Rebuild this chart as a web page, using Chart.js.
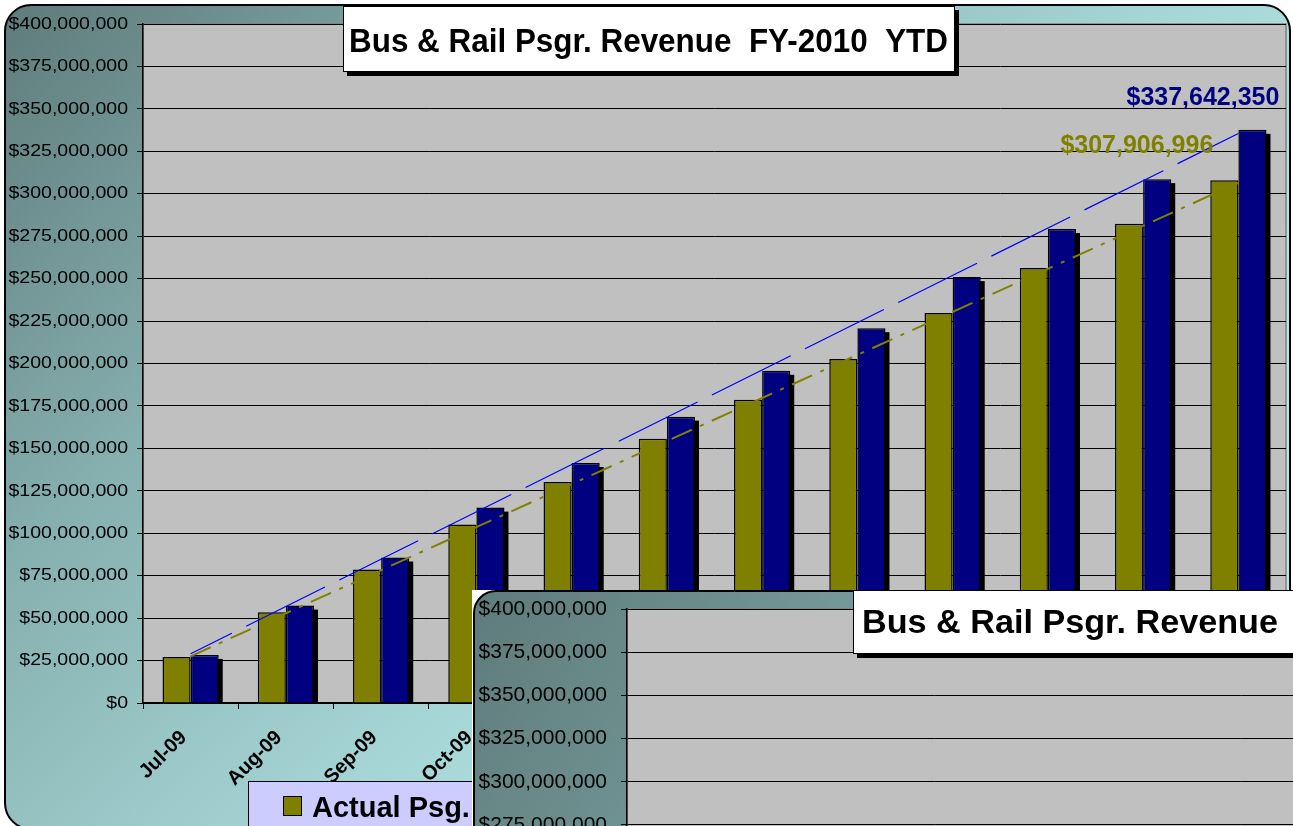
<!DOCTYPE html>
<html><head><meta charset="utf-8">
<script src="https://cdn.jsdelivr.net/npm/chart.js@4.4.0/dist/chart.umd.min.js"></script>
<style>
html,body{margin:0;padding:0;background:#fff;overflow:hidden;width:1293px;height:826px;}
#wrap1{position:absolute;left:0;top:0;width:1293px;height:826px;}
#wrap2{position:absolute;left:472px;top:590px;width:1400px;height:900px;}
canvas{display:block;}
</style></head><body>
<div id="wrap1"><canvas id="c1" width="1293" height="826"></canvas></div>
<div id="wrap2"><canvas id="c2" width="1400" height="900"></canvas></div>
<script>
// ---- data ----
const months = ['Jul-09','Aug-09','Sep-09','Oct-09','Nov-09','Dec-09','Jan-10','Feb-10','Mar-10','Apr-10','May-10','Jun-10'];
const actualRevenue = [27100000, 53400000, 78600000, 105100000, 130200000, 155600000, 178600000, 202700000, 229700000, 256300000, 282300000, 307906996];
const budgetRevenue = [28300000, 57400000, 85700000, 115100000, 141400000, 168700000, 195700000, 220800000, 250900000, 279200000, 308600000, 337642350];
const actualTrendEnds = [27500000, 306500000];
const budgetTrendEnds = [29000000, 335500000];
const seriesNames = ['Actual Psg. Revenue', 'Budget Psg. Revenue'];
const chartTitle = 'Bus & Rail Psgr. Revenue  FY-2010  YTD';
const insetTitle = 'Bus & Rail Psgr. Revenue';
const yMin = 0, yMax = 400000000, yStep = 25000000;

const OLIVE = '#808000', NAVY = '#000080';
const fmt = v => '$' + Math.round(v).toLocaleString('en-US');

function buildDatasets() {
  return [
    { type:'line', label:'Budget trend', data:[{x:months[0], y:budgetTrendEnds[0]}, {x:months[months.length-1], y:budgetTrendEnds[1]}],
      borderColor:'#0000ff', borderWidth:1.2, borderDash:[88,16], borderDashOffset:42, pointRadius:0, fill:false, order:0 },
    { type:'line', label:'Actual trend', data:[{x:months[0], y:actualTrendEnds[0]}, {x:months[months.length-1], y:actualTrendEnds[1]}],
      borderColor:OLIVE, borderWidth:2, borderDash:[22,9,4,9], pointRadius:0, fill:false, order:1 },
    { type:'bar', label:seriesNames[0], data:actualRevenue, backgroundColor:OLIVE, borderColor:'#000', borderWidth:1.5, order:2 },
    { type:'bar', label:seriesNames[1], data:budgetRevenue, backgroundColor:NAVY, borderColor:'#000', borderWidth:1.5, order:3, shadow:true }
  ];
}

function roundRect(ctx, x, y, w, h, r) {
  ctx.beginPath();
  ctx.moveTo(x + r, y);
  ctx.lineTo(x + w - r, y);
  ctx.arcTo(x + w, y, x + w, y + r, r);
  ctx.lineTo(x + w, y + h - r);
  ctx.arcTo(x + w, y + h, x + w - r, y + h, r);
  ctx.lineTo(x + r, y + h);
  ctx.arcTo(x, y + h, x, y + h - r, r);
  ctx.lineTo(x, y + r);
  ctx.arcTo(x, y, x + r, y, r);
  ctx.closePath();
}

function shadowBox(ctx, x, y, w, h) {
  ctx.fillStyle = '#000';
  ctx.fillRect(x + 4, y + 4, w, h);
  ctx.fillStyle = '#fff';
  ctx.fillRect(x, y, w, h);
  ctx.strokeStyle = '#000';
  ctx.lineWidth = 1;
  ctx.strokeRect(x + 0.5, y + 0.5, w - 1, h - 1);
}

function fitText(ctx, text, x, baseline, font, targetW, color) {
  ctx.save();
  ctx.font = font;
  ctx.fillStyle = color;
  ctx.textAlign = 'left';
  ctx.textBaseline = 'alphabetic';
  const m = ctx.measureText(text).width;
  ctx.translate(x, baseline);
  if (targetW) ctx.scale(targetW / m, 1);
  ctx.fillText(text, 0, 0);
  ctx.restore();
}

function makeChart(canvas, cfg) {
  const W = canvas.width, H = canvas.height;
  const decor = {
    id: 'decor',
    beforeDraw(chart) {
      const ctx = chart.ctx, a = chart.chartArea;
      const ys = chart.scales.y, xs = chart.scales.x;
      if (!ys.__patched) {
        const origY = ys.drawLabels;
        ys.drawLabels = function (ca) {
          const c = this.ctx, ax = this.right - 6 - cfg.yPad;
          c.save();
          c.translate(cfg.yLabelDx, 0);
          c.translate(ax, 0); c.scale(cfg.yStretch, 1); c.translate(-ax, 0);
          origY.call(this, ca);
          c.restore();
        };
        ys.__patched = true;
      }
      if (!xs.__patched) {
        const origX = xs.drawLabels;
        xs.drawLabels = function (ca) {
          const c = this.ctx;
          c.save();
          c.translate(cfg.xShift[0], cfg.xShift[1]);
          origX.call(this, ca);
          c.restore();
        };
        xs.__patched = true;
      }
      ctx.save();
      ctx.fillStyle = '#fff';
      ctx.fillRect(0, 0, W, H);
      const g = ctx.createLinearGradient(cfg.frame.x, cfg.frame.y, cfg.frame.x + cfg.gradW, cfg.frame.y + cfg.gradH);
      g.addColorStop(0, '#5f7b7b');
      g.addColorStop(0.35, '#86afaf');
      g.addColorStop(0.7, '#a6d5d5');
      g.addColorStop(1, '#b8e8e8');
      roundRect(ctx, cfg.frame.x, cfg.frame.y, cfg.frame.w, cfg.frame.h, cfg.frame.r);
      ctx.fillStyle = g;
      ctx.fill();
      ctx.lineWidth = 2;
      ctx.strokeStyle = '#000';
      ctx.stroke();
      ctx.fillStyle = '#c0c0c0';
      ctx.fillRect(a.left, a.top, a.right - a.left, a.bottom - a.top);
      ctx.strokeStyle = '#808080';
      ctx.lineWidth = 1.5;
      ctx.strokeRect(a.left, a.top, a.right - a.left, a.bottom - a.top);
      ctx.restore();
    },
    beforeDatasetDraw(chart, args) {
      const ds = chart.data.datasets[args.index];
      if (!ds.shadow) return;
      const ctx = chart.ctx, a = chart.chartArea;
      ctx.save();
      ctx.beginPath();
      ctx.rect(a.left, a.top, a.right - a.left, a.bottom - a.top);
      ctx.clip();
      ctx.fillStyle = '#000';
      args.meta.data.forEach(el => {
        ctx.fillRect(el.x - el.width / 2 + 4, el.y + 4, el.width, el.base - el.y);
      });
      ctx.restore();
    },
    afterDraw(chart) {
      const ctx = chart.ctx;
      ctx.save();
      if (cfg.valueLabels) {
        const metaA = chart.getDatasetMeta(2), metaB = chart.getDatasetMeta(3);
        const n = months.length - 1;
        const eb = metaB.data[n], ea = metaA.data[n];
        ctx.font = 'bold 25px "Liberation Sans", Arial';
        ctx.textAlign = 'right';
        ctx.textBaseline = 'alphabetic';
        ctx.fillStyle = NAVY;
        ctx.fillText(fmt(budgetRevenue[n]), eb.x + 27, eb.y - 25);
        ctx.fillStyle = OLIVE;
        ctx.fillText(fmt(actualRevenue[n]), ea.x - 11, ea.y - 27);
      }
      if (cfg.legend) {
        const L = cfg.legend;
        ctx.fillStyle = '#ccccff';
        ctx.fillRect(L.x, L.y, L.w, L.h);
        ctx.strokeStyle = '#000';
        ctx.lineWidth = 1;
        ctx.strokeRect(L.x + 0.5, L.y + 0.5, L.w, L.h);
        ctx.font = 'bold 29px "Liberation Sans", Arial';
        ctx.textAlign = 'left';
        ctx.textBaseline = 'alphabetic';
        let x = L.x + 35;
        [[seriesNames[0], OLIVE], [seriesNames[1], NAVY]].forEach(([name, col]) => {
          ctx.fillStyle = col;
          ctx.fillRect(x, L.y + 15, 19, 20);
          ctx.strokeStyle = '#000';
          ctx.strokeRect(x + 0.5, L.y + 15.5, 18, 19);
          ctx.fillStyle = '#000';
          ctx.fillText(name, x + 29, L.y + 36);
          x += 29 + ctx.measureText(name).width + 40;
        });
      }
      const T = cfg.titleBox;
      shadowBox(ctx, T.x, T.y, T.w, T.h);
      fitText(ctx, cfg.title, T.tx, T.ty, 'bold ' + T.fs + 'px "Liberation Sans", Arial', T.tw, '#000');
      ctx.restore();
    }
  };

  return new Chart(canvas, {
    data: { labels: months, datasets: buildDatasets() },
    options: {
      responsive: false,
      animation: false,
      layout: { padding: { top: cfg.padTop, right: W - cfg.plot.right, left: 0, bottom: 0 } },
      plugins: { legend: { display: false }, title: { display: false }, tooltip: { enabled: false } },
      datasets: { bar: { categoryPercentage: 0.59, barPercentage: 1 } },
      scales: {
        x: {
          type: 'category',
          offset: true,
          afterFit(s) { s.height = H - cfg.plot.bottom; },
          grid: { display: true, drawOnChartArea: false, offset: true, color: '#000', tickLength: 6, tickColor: '#000' },
          border: { display: true, color: '#000', width: 1.5 },
          ticks: { color: '#000', font: cfg.xFont, minRotation: 45, maxRotation: 45, padding: 4, autoSkip: false }
        },
        y: {
          min: yMin, max: yMax,
          afterFit(s) { s.width = cfg.plot.left; },
          grid: { color: '#000', lineWidth: 1, tickLength: 6, tickColor: '#000' },
          border: { display: true, color: '#000', width: 1.5 },
          ticks: { stepSize: yStep, color: '#000', font: cfg.yFont, padding: cfg.yPad, callback: v => fmt(v) }
        }
      }
    },
    plugins: [decor]
  });
}

makeChart(document.getElementById('c1'), {
  plot: { left: 143, right: 1286, bottom: 703 },
  padTop: 24,
  frame: { x: 5, y: 5, w: 1285, h: 824, r: 26 },
  gradW: 800, gradH: 826,
  yFont: { family: '"Liberation Sans", Arial', size: 17 },
  yPad: 9,
  yLabelDx: 0,
  yStretch: 1.15,
  xFont: { family: '"Liberation Sans", Arial', size: 20, weight: 'bold' },
  xShift: [-7, 13],
  valueLabels: true,
  legend: { x: 248, y: 781, w: 930, h: 70 },
  title: chartTitle,
  titleBox: { x: 343, y: 6, w: 612, h: 66, tx: 349, ty: 52, tw: 599, fs: 34 }
});

makeChart(document.getElementById('c2'), {
  plot: { left: 155, right: 1383, bottom: 710 },
  padTop: 19,
  frame: { x: 2, y: 1, w: 1394, h: 897, r: 22 },
  gradW: 1400, gradH: 900,
  yFont: { family: '"Liberation Sans", Arial', size: 21 },
  yPad: 2,
  yLabelDx: -12,
  yStretch: 1,
  xFont: { family: '"Liberation Sans", Arial', size: 22, weight: 'bold' },
  xShift: [0, 0],
  valueLabels: false,
  legend: null,
  title: insetTitle,
  titleBox: { x: 381, y: 0, w: 1000, h: 64, tx: 390, ty: 43, tw: 416, fs: 34 }
});
</script>
</body></html>
